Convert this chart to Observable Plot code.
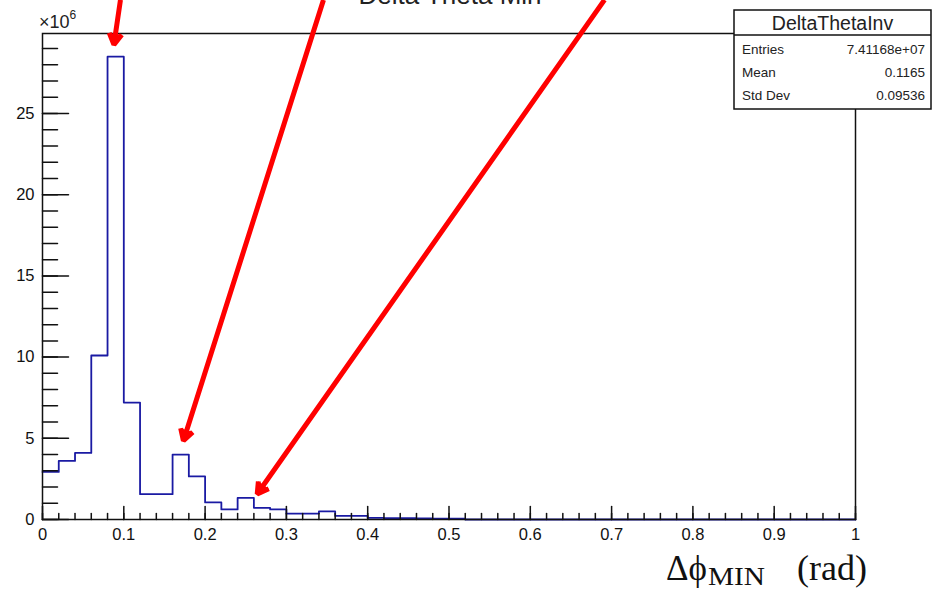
<!DOCTYPE html>
<html>
<head>
<meta charset="utf-8">
<script src="https://cdn.jsdelivr.net/npm/d3@7"></script>
<script src="https://cdn.jsdelivr.net/npm/@observablehq/plot@0.6"></script>
<style>
  html, body { margin: 0; padding: 0; background: #fff; overflow: hidden; }
  #chart svg { display: block; overflow: visible; }
</style>
</head>
<body>
<div id="chart"></div>
<script>
// Histogram of the minimum Δφ, 50 bins of 0.02 rad between 0 and 1 (counts in units of 10^6)
const binWidth = 0.02;
const counts = [
  2.93, 3.61, 4.10, 10.1, 28.5, 7.2, 1.56, 1.56, 4.0, 2.65,
  1.05, 0.62, 1.33, 0.72, 0.62, 0.36, 0.36, 0.50, 0.22, 0.22,
  0.10, 0.09, 0.08, 0.07, 0.06, 0.05, 0, 0, 0, 0,
  0, 0, 0, 0, 0, 0, 0, 0, 0, 0,
  0, 0, 0, 0, 0, 0, 0, 0, 0, 0
];

// Axis ticks
const xMajorTicks = [0, 0.1, 0.2, 0.3, 0.4, 0.5, 0.6, 0.7, 0.8, 0.9, 1];
const yMajorTicks = [0, 5, 10, 15, 20, 25];
const xMinorTicks = d3.range(0, 51).map(i => +(i * binWidth).toFixed(2));
const yMinorTicks = d3.range(0, 30);
const yMax = 29.93;

// Annotation arrows (tail above the frame, head on a peak)
const arrowTailX = [0.0959, 0.3456, 0.6913];
const arrowTailY = [32, 32, 32];
const arrowHeadX = [0.0873, 0.1722, 0.262];
const arrowHeadY = [29.06, 4.68, 1.42];

// Statistics box
const statsTitle = "DeltaThetaInv";
const statsNames = ["Entries", "Mean", "Std Dev"];
const statsValues = ["7.41168e+07", "0.1165", "0.09536"];

const steps = counts.map((c, i) => ({x: i * binWidth, y: c}));
steps.push({x: counts.length * binWidth, y: counts[counts.length - 1]});
const arrows = arrowTailX.map((_, i) => ({x1: arrowTailX[i], y1: arrowTailY[i], x2: arrowHeadX[i], y2: arrowHeadY[i]}));

const tickLine = {draw(context, l) { context.moveTo(0, 0); context.lineTo(0, -l); }};
const W = 933, H = 597;
const mL = 42, mR = 78, mT = 33, mB = 78;

const plot = Plot.plot({
  width: W,
  height: H,
  marginLeft: mL,
  marginRight: mR,
  marginTop: mT,
  marginBottom: mB,
  style: {fontFamily: "'Liberation Sans', Arial, Helvetica, sans-serif", color: "#111", background: "#fff"},
  x: {domain: [0, 1]},
  y: {domain: [0, yMax]},
  marks: [
    Plot.line(steps, {x: "x", y: "y", curve: "step-after", stroke: "#1a1aa3", strokeWidth: 1.8}),
    // inward tick marks
    Plot.vector(yMinorTicks, {x: () => 0, y: d => d, length: 15, rotate: 90, anchor: "start", shape: tickLine, stroke: "#111", strokeWidth: 1.5}),
    Plot.vector(yMajorTicks, {x: () => 0, y: d => d, length: 26, rotate: 90, anchor: "start", shape: tickLine, stroke: "#111", strokeWidth: 1.5}),
    Plot.vector(xMinorTicks, {x: d => d, y: () => 0, length: 6, rotate: 0, anchor: "start", shape: tickLine, stroke: "#111", strokeWidth: 1.5}),
    Plot.vector(xMajorTicks, {x: d => d, y: () => 0, length: 13, rotate: 0, anchor: "start", shape: tickLine, stroke: "#111", strokeWidth: 1.5}),
    Plot.axisX({ticks: xMajorTicks, tickSize: 0, tickPadding: 9, fontSize: 16.5, label: null, tickFormat: d3.format("")}),
    Plot.axisY({ticks: yMajorTicks, tickSize: 0, tickPadding: 8, fontSize: 16.5, label: null}),
    Plot.frame({stroke: "#111", strokeWidth: 1.5}),
    Plot.arrow(arrows, {x1: "x1", y1: "y1", x2: "x2", y2: "y2", stroke: "#ff0000", fill: "#ff0000", strokeWidth: 5, headLength: 3.8, headAngle: 60, strokeLinecap: "butt", strokeLinejoin: "miter", insetEnd: 3})
  ]
});

document.getElementById("chart").appendChild(plot);
const svg = d3.select(plot);
const sans = "'Liberation Sans', Arial, Helvetica, sans-serif";

// Histogram title, running off the top edge
svg.append("text")
  .attr("x", 450).attr("y", 4)
  .attr("text-anchor", "middle")
  .attr("font-family", sans).attr("font-size", 26).attr("fill", "#222")
  .text("Delta Theta Min");

// ×10^6 multiplier above the y axis
const mult = svg.append("text")
  .attr("x", 39).attr("y", 28)
  .attr("text-anchor", "start")
  .attr("font-family", sans).style("font-size", "18px").attr("fill", "#222");
mult.append("tspan").text("×10");
mult.append("tspan").attr("dy", -9).style("font-size", "12px").text("6");

// Statistics box
const bx = 734, by = 10, bw = 197, bh = 99, titleH = 25;
const box = svg.append("g").attr("font-family", sans).attr("fill", "#222");
box.append("rect").attr("x", bx).attr("y", by).attr("width", bw).attr("height", bh)
  .attr("fill", "#fff").attr("stroke", "#111").attr("stroke-width", 1.5);
box.append("line").attr("x1", bx).attr("x2", bx + bw).attr("y1", by + titleH).attr("y2", by + titleH)
  .attr("stroke", "#111").attr("stroke-width", 1.5);
box.append("text").attr("x", bx + bw / 2).attr("y", by + 19.5).attr("text-anchor", "middle")
  .attr("font-size", 19.5).text(statsTitle);
statsNames.forEach((name, i) => {
  const y = by + titleH + 18.5 + i * 23.3;
  box.append("text").attr("x", bx + 8).attr("y", y).attr("text-anchor", "start").attr("font-size", 13.5).text(name);
  box.append("text").attr("x", bx + bw - 6).attr("y", y).attr("text-anchor", "end").attr("font-size", 13.5).text(statsValues[i]);
});

// x-axis title
const xt = svg.append("text")
  .attr("y", 580)
  .attr("text-anchor", "start")
  .attr("font-family", "'Liberation Serif', 'Times New Roman', Times, serif")
  .style("font-size", "35px").attr("fill", "#111");
xt.append("tspan").attr("x", 666).text("Δϕ");
xt.append("tspan").attr("x", 708).attr("dy", 5).style("font-size", "26px")
  .attr("textLength", 57).attr("lengthAdjust", "spacingAndGlyphs").text("MIN");
xt.append("tspan").attr("x", 797).attr("dy", -5).attr("textLength", 70).attr("lengthAdjust", "spacingAndGlyphs").text("(rad)");
</script>
</body>
</html>
